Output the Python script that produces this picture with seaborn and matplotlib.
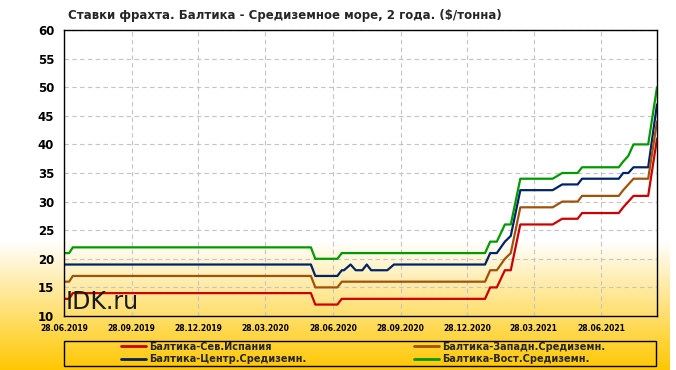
import matplotlib
matplotlib.use("Agg")
import matplotlib.pyplot as plt
import numpy as np
import pandas as pd
import seaborn as sns
from matplotlib.patches import Rectangle
from matplotlib.lines import Line2D

# points where the rates change (lines are drawn straight between them)
DATES = ['2019-06-28', '2019-07-05', '2019-07-10', '2020-05-29', '2020-06-04',
         '2020-07-04', '2020-07-10', '2020-07-13', '2020-07-22', '2020-07-29',
         '2020-08-07', '2020-08-13', '2020-08-19', '2020-09-10', '2020-09-19',
         '2021-01-21', '2021-01-28', '2021-02-06', '2021-02-17', '2021-02-25',
         '2021-03-10', '2021-04-23', '2021-05-06', '2021-05-27', '2021-06-02',
         '2021-07-22', '2021-07-28', '2021-08-04', '2021-08-11', '2021-08-31',
         '2021-09-12']
SPAIN = [13, 13, 14, 14, 12, 12, 13, 13, 13, 13, 13, 13, 13, 13, 13,
         13, 15, 15, 18, 18, 26, 26, 27, 27, 28, 28, 29, 30, 31, 31, 41]
WEST_MED = [16, 16, 17, 17, 15, 15, 16, 16, 16, 16, 16, 16, 16, 16, 16,
            16, 18, 18, 20, 21, 29, 29, 30, 30, 31, 31, 32, 33, 34, 34, 44]
CENTRAL_MED = [19, 19, 19, 19, 17, 17, 18, 18, 19, 18, 18, 19, 18, 18, 19,
               19, 21, 21, 23, 24, 32, 32, 33, 33, 34, 34, 35, 35, 36, 36, 47]
EAST_MED = [21, 21, 22, 22, 20, 20, 21, 21, 21, 21, 21, 21, 21, 21, 21,
            21, 23, 23, 26, 26, 34, 34, 35, 35, 36, 36, 37, 38, 40, 40, 50]

SERIES = ['Балтика-Сев.Испания', 'Балтика-Центр.Средиземн.',
          'Балтика-Западн.Средиземн.', 'Балтика-Вост.Средиземн.']
COLORS = ['#cc0000', '#002266', '#a0520a', '#009a00']
TICK_DATES = ['2019-06-28', '2019-09-28', '2019-12-28', '2020-03-28', '2020-06-28',
              '2020-09-28', '2020-12-28', '2021-03-28', '2021-06-28']
Y_TICKS = [10, 15, 20, 25, 30, 35, 40, 45, 50, 55, 60]
TITLE = 'Ставки фрахта. Балтика - Средиземное море, 2 года. ($/тонна)'

sns.set_theme(style="white")
plt.rcParams['font.family'] = ['DejaVu Sans']

df = pd.DataFrame({'date': pd.to_datetime(DATES),
                   SERIES[0]: SPAIN, SERIES[1]: CENTRAL_MED,
                   SERIES[2]: WEST_MED, SERIES[3]: EAST_MED})
df = df.melt(id_vars='date', var_name='series', value_name='rate')

W, H = 676, 370
fig = plt.figure(figsize=(W / 100, H / 100), dpi=100)

# white -> orange background gradient
bg = fig.add_axes([0, 0, 1, 1], zorder=-10)
rows = np.arange(H)
t = np.clip((rows - 240) / (H - 240), 0, 1)[:, None]
top = np.array([1.0, 1.0, 1.0])
bottom = np.array([1.0, 0.78, 0.0])
grad = top * (1 - t) + bottom * t
img = np.repeat(grad[:, None, :], W, axis=1)
img[:, 670:, :] = 1.0
bg.imshow(img, aspect='auto', extent=[0, 1, 0, 1])
bg.axis('off')

ax = fig.add_axes([64 / W, 1 - 316 / H, (657 - 64) / W, (316 - 30) / H])
ax.set_facecolor('none')
sns.lineplot(data=df, x='date', y='rate', hue='series', hue_order=SERIES,
             palette=COLORS, linewidth=1.6, ax=ax, legend=False)

ax.set_xlim(pd.Timestamp(DATES[0]), pd.Timestamp(DATES[-1]))
ax.set_ylim(10, 60)
ax.set_yticks(Y_TICKS)
ax.set_yticklabels([str(v) for v in Y_TICKS], fontsize=8.5, fontweight='bold')
ticks = pd.to_datetime(TICK_DATES)
ax.set_xticks(ticks)
ax.set_xticklabels([d.strftime('%d.%m.%Y') for d in ticks], fontsize=5.5, fontweight='bold')
ax.tick_params(axis='y', length=0, pad=7, colors='black')
ax.tick_params(axis='x', length=0, pad=6, colors='black')
ax.set_xlabel('')
ax.set_ylabel('')
ax.grid(True, linestyle=(0, (4, 3)), color='#c4c4c4', linewidth=0.8)
for s in ax.spines.values():
    s.set_color('black')
    s.set_linewidth(1.0)

fig.text(68 / W, 1 - 16 / H, TITLE, fontsize=8.5, fontweight='bold', va='center')
fig.text(66 / W, 1 - 302 / H, 'IDK.ru', fontsize=17, va='center', color='#1a1a1a')

# legend box
fig.add_artist(Rectangle((64 / W, 1 - 366 / H), 592 / W, 25 / H, transform=fig.transFigure,
                         fill=False, edgecolor='black', linewidth=1.0))
handles = [Line2D([], [], color=c, linewidth=2) for c in COLORS]
fig.legend(handles, SERIES, ncol=2, loc='center', bbox_to_anchor=(363 / W, 1 - 353 / H),
           frameon=False, prop={'size': 7, 'weight': 'bold'}, handlelength=2.6,
           handletextpad=0.3, columnspacing=11, labelspacing=0.25, borderpad=0)

fig.savefig('out.png', dpi=100)
